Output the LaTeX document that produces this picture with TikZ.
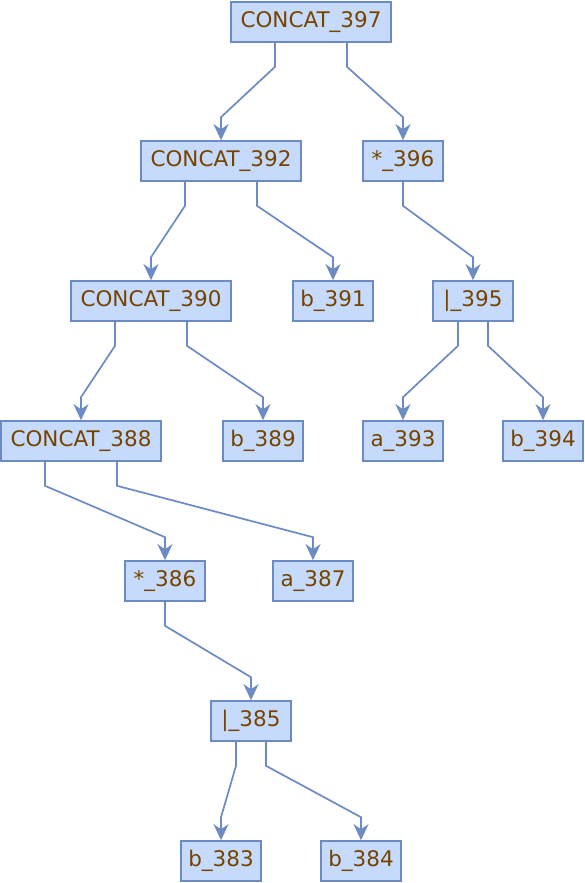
\documentclass[tikz,border=0pt]{standalone}
\usepackage{fontspec}
\setmainfont{DejaVu Sans}
\usetikzlibrary{arrows.meta}
\definecolor{nodefill}{RGB}{198,218,252}
\definecolor{nodeline}{RGB}{108,138,196}
\definecolor{nodetext}{RGB}{119,68,0}

\begin{document}
\begin{tikzpicture}[x=1pt,y=-1pt,
  op/.style={draw=nodeline,fill=nodefill,text=nodetext,line width=1.6pt,
    minimum width=160pt,minimum height=40pt,inner sep=0pt,
    font=\fontsize{21.5}{24}\selectfont},
  leaf/.style={op,minimum width=80pt},
  link/.style={draw=nodeline,line width=1.7pt,
    -{Stealth[length=16pt,width=15pt,inset=5pt]}}]
\useasboundingbox (0,0) rectangle (585,883);

\node[op] (c397) at (311,22) {CONCAT\_397};
\node[op] (c392) at (221,161) {CONCAT\_392};
\node[leaf] (s396) at (403,161) {*\_396};
\node[op] (c390) at (151,301) {CONCAT\_390};
\node[leaf] (b391) at (333,301) {b\_391};
\node[leaf] (u395) at (473,301) {|\_395};
\node[op] (c388) at (81,441) {CONCAT\_388};
\node[leaf] (b389) at (263,441) {b\_389};
\node[leaf] (a393) at (403,441) {a\_393};
\node[leaf] (b394) at (543,441) {b\_394};
\node[leaf] (s386) at (165,581) {*\_386};
\node[leaf] (a387) at (313,581) {a\_387};
\node[leaf] (u385) at (251,721) {|\_385};
\node[leaf] (b383) at (221,861) {b\_383};
\node[leaf] (b384) at (361,861) {b\_384};

%% top
\draw[link] ([xshift=-36pt]c397.south) -- ++(0,-24pt) -- ([yshift=23pt]c392.north) -- (c392.north);
\draw[link] ([xshift=36pt]c397.south) -- ++(0,-24pt) -- ([yshift=23pt]s396.north) -- (s396.north);

%% left
\draw[link] ([xshift=-36pt]c392.south) -- ++(0,-24pt) -- ([yshift=23pt]c390.north) -- (c390.north);
\draw[link] ([xshift=36pt]c392.south) -- ++(0,-24pt) -- ([yshift=23pt]b391.north) -- (b391.north);
\draw[link] ([xshift=-36pt]c390.south) -- ++(0,-24pt) -- ([yshift=23pt]c388.north) -- (c388.north);
\draw[link] ([xshift=36pt]c390.south) -- ++(0,-24pt) -- ([yshift=23pt]b389.north) -- (b389.north);
\draw[link] ([xshift=-36pt]c388.south) -- ++(0,-24pt) -- ([yshift=23pt]s386.north) -- (s386.north);
\draw[link] ([xshift=36pt]c388.south) -- ++(0,-24pt) -- ([yshift=23pt]a387.north) -- (a387.north);
\draw[link] (s386.south) -- ++(0,-24pt) -- ([yshift=23pt]u385.north) -- (u385.north);
\draw[link] ([xshift=-15pt]u385.south) -- ++(0,-24pt) -- ([yshift=23pt]b383.north) -- (b383.north);
\draw[link] ([xshift=15pt]u385.south) -- ++(0,-24pt) -- ([yshift=23pt]b384.north) -- (b384.north);

%% right
\draw[link] (s396.south) -- ++(0,-24pt) -- ([yshift=23pt]u395.north) -- (u395.north);
\draw[link] ([xshift=-15pt]u395.south) -- ++(0,-24pt) -- ([yshift=23pt]a393.north) -- (a393.north);
\draw[link] ([xshift=15pt]u395.south) -- ++(0,-24pt) -- ([yshift=23pt]b394.north) -- (b394.north);
\end{tikzpicture}
\end{document}
